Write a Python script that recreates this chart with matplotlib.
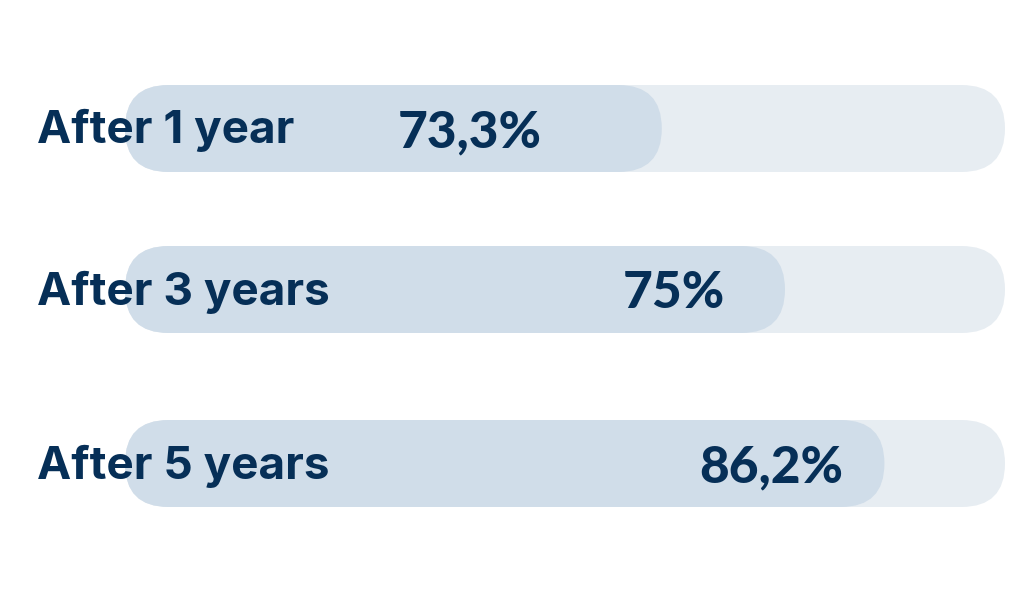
import matplotlib
matplotlib.use("Agg")
import matplotlib.pyplot as plt
from matplotlib.patches import FancyBboxPatch

# ---- data ----
categories = ["After 1 year", "After 3 years", "After 5 years"]
value_labels = ["73,3%", "75%", "86,2%"]
fill_lengths = [61.0, 75.0, 86.3]      # bar fill (% of full track)
track_max = 100.0

# ---- layout (pixels of a 1024x600 canvas) ----
W, H = 1024, 600
x0_px, track_px = 125, 880
px_per_unit = track_px / track_max
row_centers = [128.5, 289.5, 463.5]
bar_h = 87
label_x = -88 / px_per_unit
value_right = [47.4, 68.2, 81.6]

text_col = "#062f57"
fill_col = "#d0dde9"
track_col = "#e7edf2"

fig = plt.figure(figsize=(W / 100, H / 100), dpi=100)
ax = fig.add_axes([0, 0, 1, 1])
ax.set_xlim(-x0_px / px_per_unit, (W - x0_px) / px_per_unit)
ax.set_ylim(H, 0)
ax.axis("off")

r = (bar_h / 2) / px_per_unit          # rounding size in x data units
aspect = px_per_unit                   # y units per x unit (y in px)

for i, yc in enumerate(row_centers):
    bg = FancyBboxPatch((0, yc - bar_h / 2), track_max, bar_h,
                        boxstyle=f"round,pad=0,rounding_size={r}",
                        mutation_aspect=aspect, fc=track_col, ec="none", zorder=1)
    ax.add_patch(bg)
    fg = FancyBboxPatch((0, yc - bar_h / 2), fill_lengths[i], bar_h,
                        boxstyle=f"round,pad=0,rounding_size={r}",
                        mutation_aspect=aspect, fc=fill_col, ec="none", zorder=2)
    ax.add_patch(fg)
    ax.text(label_x, yc + 15, categories[i], ha="left", va="baseline",
            fontsize=33, fontweight="bold", color=text_col, family="Inter", zorder=3)
    ax.text(value_right[i], yc + 19, value_labels[i], ha="right", va="baseline",
            fontsize=37, fontweight=900, color=text_col, family="Lato", zorder=3)

fig.savefig("out.png", dpi=100, facecolor="white")
